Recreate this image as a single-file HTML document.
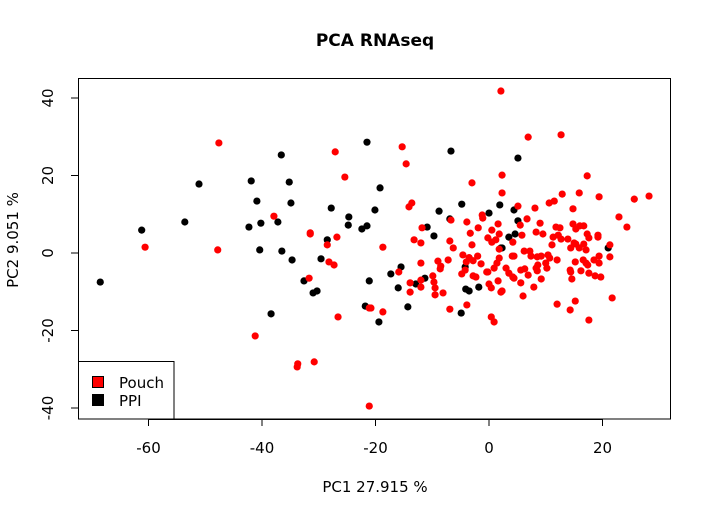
<!DOCTYPE html>
<html><head><meta charset="utf-8"><style>
body{margin:0;background:#fff;}
text{font-family:"DejaVu Sans","Liberation Sans",sans-serif;}
</style></head><body>
<svg id="chart" width="712" height="517" xmlns="http://www.w3.org/2000/svg">
<rect x="0" y="0" width="712" height="517" fill="#fff"/>
<text x="375" y="46" text-anchor="middle" font-size="17" font-weight="bold">PCA RNAseq</text>
<text x="375" y="492" text-anchor="middle" font-size="15">PC1 27.915 %</text>
<text transform="translate(18,240) rotate(-90)" text-anchor="middle" font-size="15">PC2 9.051 %</text>
<g id="axes"></g>
<g id="points"></g>
<rect x="78.5" y="78.5" width="592" height="340.5" fill="none" stroke="#000" stroke-width="1"/>
<g>
<rect x="78.5" y="361.5" width="95.5" height="57.5" fill="#fff" stroke="#000"/>
<rect x="92.5" y="376.5" width="11" height="11" fill="#ff0000" stroke="#000"/>
<text x="119" y="388" font-size="15">Pouch</text>
<rect x="92.5" y="394.5" width="11" height="11" fill="#000" stroke="#000"/>
<text x="119" y="406" font-size="15">PPI</text>
</g>
</svg>
<script>
const xTicks = [-60, -40, -20, 0, 20];
const yTicks = [-40, -20, 0, 20, 40];
const ppiX = [-68.5,-61.2,-53.6,-51.1,-41.9,-36.6,-35.2,-40.9,-34.9,-42.3,-40.2,-37.2,-40.4,-36.5,-34.7,-32.6,-31.0,-30.3,-38.4,-29.6,-28.5,-27.8,-24.7,-24.8,-22.4,-21.5,-21.5,-21.1,-21.8,-6.7,5.1,-19.2,-20.1,-8.8,-4.8,1.9,0,4.4,5.1,-10.9,-9.7,-6.9,3.5,4.6,2.1,-4.2,-15.5,-17.3,-11.3,-12.9,-16.0,-4.1,-3.5,-1.8,-4.9,-14.3,-19.4,2.3,21.0];
const ppiY = [-7.5,5.9,8.0,17.8,18.6,25.3,18.3,13.4,12.9,6.7,7.7,8.0,0.8,0.5,-1.8,-7.2,-10.3,-9.8,-15.7,-1.5,3.4,11.6,9.3,7.2,6.2,7.0,28.6,-7.2,-13.7,26.3,24.5,16.8,11.1,10.8,12.6,12.4,10.3,11.1,8.3,6.7,4.4,8.8,4.1,4.9,1.3,-3.6,-3.6,-5.4,-6.5,-8.0,-9.0,-9.3,-9.8,-8.8,-15.5,-13.9,-17.8,1.3,1.3];
const pouchX = [-47.6,-60.6,-47.8,-27.1,-25.4,-37.9,-31.5,-31.5,-26.8,-28.5,-28.2,-27.3,-31.7,-26.6,-41.2,-33.8,-33.7,-30.8,-21.1,-21.1,2.1,-15.3,-14.6,2.3,-3.0,2.3,-13.6,-14.1,-1.2,-1.1,-11.8,-6.7,-3.9,-1.9,-3.3,-0.2,0.5,1.6,1.8,1.2,0.5,4.2,-13.2,-12.0,-18.7,-6.9,-6.3,-3.0,1.8,-4.6,-3.5,-2.8,-1.4,-2.0,-4.0,-0.2,0.9,1.4,1.8,4.1,4.4,3.0,3.5,4.4,-4.8,-4.2,-2.8,-2.3,-0.4,-9.0,-8.5,-8.6,-7.2,-12.0,-15.9,-9.9,-12.0,-13.9,-13.9,-12.0,-9.7,-9.5,-9.5,-8.1,0,0.4,1.6,2.1,2.3,-6.9,-3.9,-20.8,-18.7,0.4,0.9,6.9,12.7,17.3,10.6,11.5,12.9,15.9,19.4,25.6,28.2,8.1,14.8,5.1,6.7,9.0,5.5,22.9,24.3,11.8,12.5,14.8,16.0,16.7,8.3,9.5,5.8,11.3,12.2,12.7,13.9,15.3,17.3,17.6,19.2,19.2,11.1,14.4,15.3,15.9,16.7,17.1,15.0,6.2,7.2,7.4,8.5,9.2,10.4,10.7,12.0,10.0,21.3,21.3,15.2,16.6,17.1,17.4,18.5,19.4,19.4,4.2,5.6,6.3,6.9,8.5,8.3,8.6,10.2,14.3,14.4,16.2,17.6,18.7,19.7,14.6,5.6,7.9,9.2,6.0,12.0,15.2,14.3,21.7,17.6];
const pouchY = [28.4,1.5,0.8,26.1,19.6,9.5,5.2,4.9,4.1,2.1,-2.3,-3.1,-6.5,-16.5,-21.4,-29.4,-28.6,-28.1,-39.5,-14.2,41.8,27.4,23.0,20.1,18.1,15.5,12.9,11.9,9.8,9.0,6.5,8.5,8.0,6.5,5.1,3.9,5.9,7.5,4.9,3.4,2.8,2.8,3.4,2.6,1.5,3.1,1.3,2.1,1.0,-0.5,-1.2,-2.0,-2.8,-0.8,-2.3,-4.9,-3.9,-2.6,-1.3,-0.8,-0.8,-3.9,-5.2,-6.5,-5.4,-4.4,-5.9,-6.2,-4.9,-2.1,-3.4,-4.1,-1.8,-2.6,-4.9,-5.9,-7.0,-7.7,-10.1,-8.8,-7.5,-9.0,-10.8,-10.3,-8.0,-9.0,-7.2,-10.1,-9.8,-14.5,-13.4,-14.2,-15.2,-16.5,-17.8,29.9,30.5,19.9,12.9,13.4,15.2,15.5,14.5,13.9,14.7,11.6,11.4,12.1,8.8,7.7,7.2,9.3,6.7,6.7,6.5,7.5,7.0,7.0,5.4,4.9,4.6,4.1,4.6,3.6,3.6,6.2,4.9,3.9,4.6,4.1,2.1,1.3,2.3,1.3,2.3,0.8,2.6,0.5,0.5,-0.8,-1.0,-0.8,-0.5,-1.3,-1.8,-2.6,2.1,-1.0,-2.3,-1.8,-2.6,-3.1,-1.8,-2.6,-0.8,-6.2,-4.4,-4.1,-5.7,-4.6,-3.9,-3.1,-3.9,-4.4,-4.9,-4.6,-5.2,-5.9,-6.2,-6.7,-7.7,-8.8,-6.7,-11.1,-13.2,-12.4,-14.7,-11.6,-17.3];

const NS = 'http://www.w3.org/2000/svg';
function sx(v){ return 489 + v * 5.675; }
function sy(v){ return 253 - v * 3.875; }
const axes = document.getElementById('axes');
function mk(tag, attrs){ const e=document.createElementNS(NS,tag); for(const k in attrs) e.setAttribute(k,attrs[k]); return e; }
const xl = mk('line',{x1:sx(xTicks[0]),x2:sx(xTicks[xTicks.length-1]),y1:419.5,y2:419.5,stroke:'#000'});


axes.appendChild(xl);
xTicks.forEach(t=>{
  const l = mk('line',{x1:sx(t),x2:sx(t),y1:419,y2:426,stroke:'#000'});
  
  
  axes.appendChild(l);
  const tx = mk('text',{x:sx(t),y:453,'text-anchor':'middle','font-size':'15'});
  tx.textContent = t;
  
  
  axes.appendChild(tx);
});
const yl = mk('line',{x1:78.5,x2:78.5,y1:sy(yTicks[0]),y2:sy(yTicks[yTicks.length-1]),stroke:'#000'});


axes.appendChild(yl);
yTicks.forEach(t=>{
  const l = mk('line',{x1:71,x2:78,y1:sy(t),y2:sy(t),stroke:'#000'});
  
  
  axes.appendChild(l);
  const tx = mk('text',{transform:'translate(53,'+sy(t)+') rotate(-90)','text-anchor':'middle','font-size':'15'});
  tx.textContent = t;
  
  
  axes.appendChild(tx);
});
const pts = document.getElementById('points');
ppiX.forEach((v,i)=>{
  const c = mk('circle',{cx:sx(v),cy:sy(ppiY[i]),r:3.6,fill:'#000'});
  
  
  pts.appendChild(c);
});
pouchX.forEach((v,i)=>{
  const c = mk('circle',{cx:sx(v),cy:sy(pouchY[i]),r:3.6,fill:'#ff0000'});
  
  
  pts.appendChild(c);
});
</script>
</body></html>
